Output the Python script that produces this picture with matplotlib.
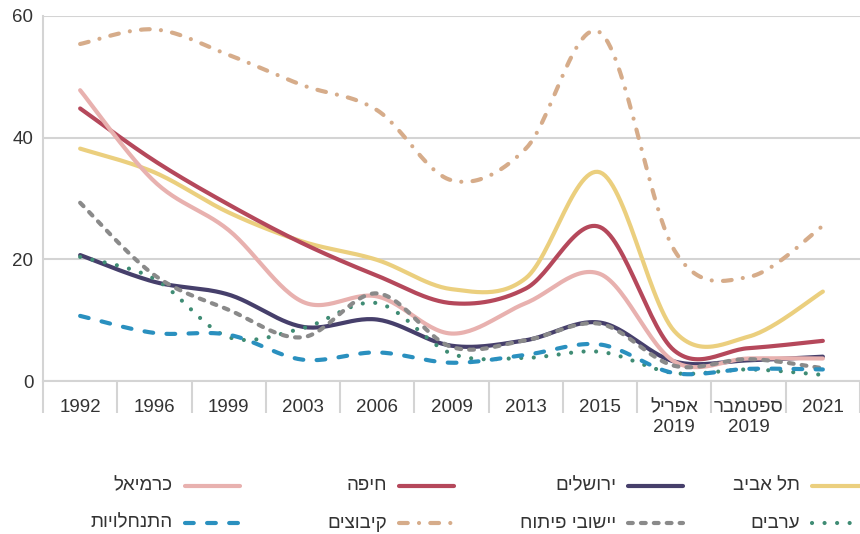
import numpy as np
import matplotlib
matplotlib.use('Agg')
import matplotlib.pyplot as plt
from matplotlib.lines import Line2D

plt.rcParams['font.family'] = ['Liberation Sans', 'DejaVu Sans']

categories = ['1992', '1996', '1999', '2003', '2006', '2009', '2013', '2015',
              'אפריל\n2019', 'ספטמבר\n2019', '2021']

tel_aviv = [38.2, 34.3, 27.7, 22.9, 19.9, 15.1, 16.9, 34.3, 8.2, 7.3, 14.7]
jerusalem = [20.7, 16.3, 14.2, 8.9, 10.1, 5.8, 6.7, 9.6, 3.2, 3.4, 4.0]
haifa = [44.8, 36.2, 29.0, 22.6, 17.3, 12.8, 15.2, 25.3, 5.0, 5.4, 6.6]
karmiel = [47.8, 32.8, 24.8, 13.0, 13.9, 7.8, 12.8, 17.6, 3.2, 3.7, 3.7]
arabs = [20.4, 16.8, 7.2, 8.7, 12.8, 4.5, 3.8, 4.8, 1.3, 1.9, 1.0]
dev_towns = [29.3, 17.4, 11.7, 7.2, 14.4, 5.6, 6.7, 9.4, 2.5, 3.6, 2.1]
kibbutzim = [55.4, 57.8, 53.6, 48.6, 44.5, 33.0, 38.2, 57.3, 21.5, 17.1, 25.5]
settlements = [10.7, 7.9, 7.6, 3.5, 4.7, 3.0, 4.3, 6.0, 1.3, 2.0, 1.9]

names = ['תל אביב', 'ירושלים', 'חיפה', 'כרמיאל', 'ערבים', 'יישובי פיתוח', 'קיבוצים', 'התנחלויות']


def rtl(s):
    # text gets laid out left to right here, so flip the hebrew lines by hand
    out = []
    for line in s.split('\n'):
        if any('\u0590' <= c <= '\u05ff' for c in line):
            line = line[::-1]
        out.append(line)
    return '\n'.join(out)


def smooth(y, n=30):
    # excel-like smoothed line: bezier segments with catmull-rom control points
    y = np.asarray(y, dtype=float)
    x = np.arange(len(y), dtype=float)
    pts = np.column_stack([x, y])
    xs, ys = [], []
    for i in range(len(pts) - 1):
        p0 = pts[max(i - 1, 0)]
        p1 = pts[i]
        p2 = pts[i + 1]
        p3 = pts[min(i + 2, len(pts) - 1)]
        c1 = p1 + (p2 - p0) / 6
        c2 = p2 - (p3 - p1) / 6
        t = np.linspace(0, 1, n)[:, None]
        b = ((1 - t) ** 3) * p1 + 3 * ((1 - t) ** 2) * t * c1 + 3 * (1 - t) * t ** 2 * c2 + t ** 3 * p2
        xs.append(b[:, 0])
        ys.append(b[:, 1])
    return np.concatenate(xs), np.concatenate(ys)


series = [tel_aviv, jerusalem, haifa, karmiel, arabs, dev_towns, kibbutzim, settlements]
colors = ['#EBCF7E', '#463F6B', '#B5485B', '#E8B1AF', '#3F8C74', '#8A8A8A', '#D6AC8A', '#2A90BF']
dashes = [None, None, None, None, (0.01, 3.0), (1.15, 1.95), (2.1, 2.7, 0.01, 2.7), (2.1, 3.2)]

fig = plt.figure(figsize=(8.6, 5.34), dpi=100)
ax = fig.add_axes([43 / 860, (534 - 381) / 534, (860 - 43) / 860, 365 / 534])

for vals, col, ds in zip(series, colors, dashes):
    sx, sy = smooth(vals)
    line, = ax.plot(sx, sy, color=col, lw=3, solid_capstyle='round', dash_capstyle='round', zorder=3)
    if ds is not None:
        line.set_dashes(ds)

ax.set_ylim(0, 60)
ax.set_xlim(-0.5, -0.5 + (860 - 43) / 75)
ax.set_yticks([0, 20, 40, 60])
ax.yaxis.grid(True, color='#D4D4D4', lw=1.5, zorder=0)
ax.tick_params(axis='y', length=0, pad=7, labelsize=13.5, labelcolor='#333333')

ax.set_xticks(np.arange(len(categories)))
ax.set_xticklabels([rtl(c) for c in categories])
ax.set_xticks(np.arange(len(categories) + 1) - 0.5, minor=True)
ax.tick_params(axis='x', which='major', length=0, pad=13, labelsize=13.5, labelcolor='#333333')
ax.tick_params(axis='x', which='minor', length=23, width=1.5, color='#D4D4D4')

for side in ['top', 'right']:
    ax.spines[side].set_visible(False)
for side in ['left', 'bottom']:
    ax.spines[side].set_color('#D4D4D4')
    ax.spines[side].set_linewidth(1.5)

# legend drawn by hand: two rows, handles to the right of the text
leg_x = [812, 628, 399, 185, 812, 628, 399, 185]
leg_y = [486, 486, 486, 486, 523, 523, 523, 523]
for name, col, ds, lx, ly in zip(names, colors, dashes, leg_x, leg_y):
    fy = (534 - ly) / 534
    h = Line2D([lx / 860, (lx + 55) / 860], [fy, fy], transform=fig.transFigure,
               color=col, lw=3, solid_capstyle='round', dash_capstyle='round')
    if ds is not None:
        h.set_dashes(ds)
    fig.add_artist(h)
    fig.text((lx - 12) / 860, fy, rtl(name), ha='right', va='center', fontsize=13.5, color='#333333')

fig.savefig('out.png', dpi=100)
